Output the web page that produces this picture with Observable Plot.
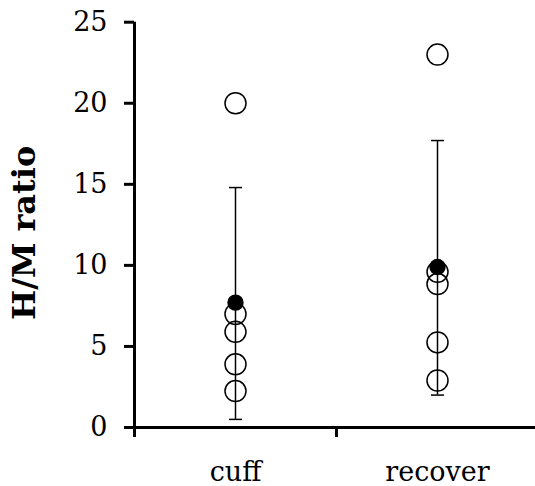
<!DOCTYPE html>
<html>
<head>
<meta charset="utf-8">
<script src="https://cdn.jsdelivr.net/npm/d3@7"></script>
<script src="https://cdn.jsdelivr.net/npm/@observablehq/plot@0.6"></script>
<style>
  html, body { margin: 0; padding: 0; background: #fff; }
  #chart svg { display: block; }
</style>
</head>
<body>
<div id="chart"></div>
<script>
const categories = ["cuff", "recover"];
const cuffValues = [20, 7.0, 5.9, 3.9, 2.25];
const recoverValues = [23, 9.6, 8.85, 5.25, 2.9];
const means = [7.7, 9.9];
const sdLow = [0.5, 2.0];
const sdHigh = [14.8, 17.7];
const yTicks = [0, 5, 10, 15, 20, 25];
const yLabel = "H/M ratio";

const seriesValues = [cuffValues, recoverValues];
const points = seriesValues.flatMap((vals, i) => vals.map(v => ({pos: i + 0.5, value: v})));
const summary = categories.map((c, i) => ({pos: i + 0.5, name: c, mean: means[i], lo: sdLow[i], hi: sdHigh[i]}));

const capSymbol = {
  draw(ctx, size) {
    const w = Math.sqrt(size / Math.PI);
    ctx.moveTo(-w, 0);
    ctx.lineTo(w, 0);
  }
};

const font = "DejaVu Serif";

const chart = Plot.plot({
  width: 535,
  height: 486,
  marginLeft: 134,
  marginRight: 0,
  marginTop: 21.7,
  marginBottom: 59,
  style: {fontFamily: font, color: "#000", background: "#fff", overflow: "visible"},
  x: {type: "linear", domain: [0, 2], range: [134, 538]},
  y: {domain: [0, 25]},
  marks: [
    Plot.axisY({ticks: yTicks, tickSize: 10, tickPadding: 17, strokeWidth: 3, fontSize: 27, label: null, tickFormat: d => String(d)}),
    Plot.axisX({ticks: [0, 1], tickSize: 10, strokeWidth: 3, tickFormat: () => "", label: null}),
    Plot.axisX({ticks: summary.map(d => d.pos), tickSize: 0, tickPadding: 34, fontSize: 27, label: null, tickFormat: (d, i) => categories[i]}),
    Plot.ruleX([0], {y1: 0, y2: 25, strokeWidth: 3}),
    Plot.ruleY([0], {strokeWidth: 3}),
    Plot.ruleX(summary, {x: "pos", y1: "lo", y2: "hi", strokeWidth: 1.5}),
    Plot.dot(summary, {x: "pos", y: "lo", symbol: capSymbol, r: 6.5, stroke: "#000", strokeWidth: 1.5, fill: "none"}),
    Plot.dot(summary, {x: "pos", y: "hi", symbol: capSymbol, r: 6.5, stroke: "#000", strokeWidth: 1.5, fill: "none"}),
    Plot.dot(points, {x: "pos", y: "value", r: 10.5, stroke: "#000", strokeWidth: 1.5, fill: "none"}),
    Plot.dot(summary, {x: "pos", y: "mean", r: 8.2, fill: "#000", stroke: "none"}),
    Plot.text([yLabel], {frameAnchor: "left", rotate: -90, dx: -100, dy: 8, lineAnchor: "bottom", textAnchor: "middle", fontSize: 32, fontWeight: "bold", fontFamily: font, fill: "#000"})
  ]
});
document.getElementById("chart").appendChild(chart);
</script>
</body>
</html>
